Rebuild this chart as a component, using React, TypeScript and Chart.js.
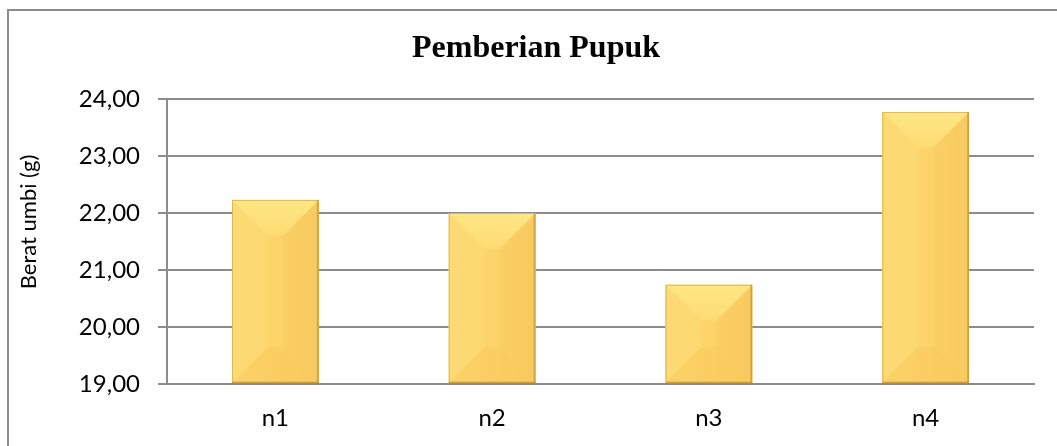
import React, { useEffect, useRef } from 'react';
import { Chart, registerables } from 'chart.js';

Chart.register(...registerables);

const chartTitle = 'Pemberian Pupuk';
const yAxisTitle = 'Berat umbi (g)';
const categories = ['n1', 'n2', 'n3', 'n4'];
const beratUmbi = [22.23, 22.0, 20.74, 23.77];
const yTickLabels = ['19,00', '20,00', '21,00', '22,00', '23,00', '24,00'];
const yMin = 19;
const yMax = 24;
const yStep = 1;

const SANS = "Lato, 'Open Sans', 'Liberation Sans', sans-serif";
const SERIF = "'Liberation Serif', 'Times New Roman', serif";
const GRID = '#8c8c8c';

function poly(ctx: CanvasRenderingContext2D, pts: number[][], fill: any) {
  ctx.beginPath();
  ctx.moveTo(pts[0][0], pts[0][1]);
  for (let i = 1; i < pts.length; i++) ctx.lineTo(pts[i][0], pts[i][1]);
  ctx.closePath();
  ctx.fillStyle = fill;
  ctx.fill();
}

const bevelPlugin = {
  id: 'bevel',
  afterDatasetsDraw(chart: any) {
    const ctx: CanvasRenderingContext2D = chart.ctx;
    const area = chart.chartArea;
    const meta = chart.getDatasetMeta(0);
    meta.data.forEach((bar: any) => {
      const { x, y, base, width } = bar.getProps(['x', 'y', 'base', 'width'], true);
      const x0 = x - width / 2;
      const x1 = x + width / 2;
      const y0 = Math.max(Math.min(y, base), area.top);
      const y1 = Math.min(Math.max(y, base), area.bottom);
      const h = y1 - y0;
      if (h <= 0) return;
      const b = Math.min(36, width / 2 - 3, h / 2);
      ctx.save();
      const front = ctx.createLinearGradient(x0, 0, x1, 0);
      front.addColorStop(0, '#FDD870');
      front.addColorStop(0.5, '#FCD46A');
      front.addColorStop(1, '#FACE63');
      ctx.fillStyle = front;
      ctx.fillRect(x0, y0, width, h);
      // left face
      poly(ctx, [[x0, y0], [x0 + b, y0 + b], [x0 + b, y1 - b], [x0, y1]], 'rgba(255,228,130,0.22)');
      // right face
      poly(ctx, [[x1, y0], [x1 - b, y0 + b], [x1 - b, y1 - b], [x1, y1]], 'rgba(235,165,45,0.08)');
      // top face
      const top = ctx.createLinearGradient(0, y0, 0, y0 + b);
      top.addColorStop(0, '#FFE784');
      top.addColorStop(1, '#FDDB73');
      poly(ctx, [[x0, y0], [x1, y0], [x1 - b, y0 + b], [x0 + b, y0 + b]], top);
      // bottom face
      poly(ctx, [[x0, y1], [x1, y1], [x1 - b, y1 - b], [x0 + b, y1 - b]], 'rgba(240,170,50,0.13)');
      // edges
      ctx.lineWidth = 1;
      ctx.strokeStyle = '#DDB75A';
      ctx.strokeRect(x0 + 0.5, y0 + 0.5, width - 1, h - 1);
      ctx.fillStyle = 'rgba(185,135,40,0.45)';
      ctx.fillRect(x1 - 2, y0, 2, h);
      ctx.fillRect(x0, y1 - 1.5, width, 1.5);
      ctx.restore();
    });
  },
};

const yTitlePlugin = {
  id: 'yTitle',
  afterDraw(chart: any) {
    const ctx: CanvasRenderingContext2D = chart.ctx;
    ctx.save();
    ctx.translate(29, 222);
    ctx.rotate(-Math.PI / 2);
    ctx.font = `22px ${SANS}`;
    ctx.fillStyle = '#000';
    ctx.textAlign = 'center';
    ctx.textBaseline = 'middle';
    ctx.fillText(yAxisTitle, 0, 0);
    ctx.restore();
  },
};

export default function App() {
  const canvasRef = useRef<HTMLCanvasElement | null>(null);

  useEffect(() => {
    if (!canvasRef.current) return;
    const chart = new Chart(canvasRef.current, {
      type: 'bar',
      data: {
        labels: categories,
        datasets: [
          {
            label: yAxisTitle,
            data: beratUmbi,
            base: yMin,
            backgroundColor: '#FCD36B',
            borderWidth: 0,
            categoryPercentage: 1,
            barPercentage: 0.4,
          },
        ],
      },
      options: {
        animation: false,
        responsive: false,
        maintainAspectRatio: false,
        devicePixelRatio: 1,
        layout: { padding: { left: 38, right: 23, top: 0, bottom: 0 } },
        plugins: {
          legend: { display: false },
          tooltip: { enabled: false },
          title: {
            display: true,
            text: chartTitle,
            color: '#000',
            font: { family: SERIF, size: 32, weight: 'bold', lineHeight: 1.2 },
            padding: { top: 30, bottom: 30.6 },
          },
        },
        scales: {
          x: {
            grid: { display: false, drawTicks: false, tickLength: 0 },
            border: { display: true, color: GRID, width: 2 },
            ticks: { color: '#000', font: { family: SANS, size: 24 }, padding: 20 },
            afterFit: (scale: any) => {
              scale.height = 62;
            },
          },
          y: {
            min: yMin,
            max: yMax,
            grid: { color: GRID, lineWidth: 2, tickLength: 9, drawTicks: true },
            border: { display: true, color: GRID, width: 2 },
            ticks: {
              stepSize: yStep,
              color: '#000',
              font: { family: SANS, size: 24 },
              padding: 18,
              callback: (_v: any, i: number) => yTickLabels[i],
            },
            afterFit: (scale: any) => {
              scale.width = 129;
            },
          },
        },
      },
      plugins: [bevelPlugin, yTitlePlugin],
    });
    return () => chart.destroy();
  }, []);

  return (
    <div
      style={{
        position: 'fixed',
        left: 0,
        top: 0,
        width: 1057,
        height: 446,
        overflow: 'hidden',
        background: '#fff',
      }}
    >
      <div
        style={{
          position: 'absolute',
          left: 7,
          top: 9,
          width: 1100,
          height: 500,
          borderLeft: `2px solid ${GRID}`,
          borderTop: `2px solid ${GRID}`,
        }}
      />
      <canvas
        ref={canvasRef}
        width={1057}
        height={446}
        style={{ position: 'absolute', left: 0, top: 0, width: 1057, height: 446 }}
      />
    </div>
  );
}
